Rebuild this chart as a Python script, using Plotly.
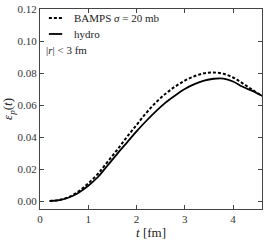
import plotly.graph_objects as go

t = [0.2, 0.4, 0.6, 0.8, 1.0, 1.2, 1.4, 1.6, 1.8, 2.0, 2.2, 2.4, 2.6, 2.8, 3.0, 3.2, 3.4, 3.6, 3.8, 4.0, 4.2, 4.4, 4.6]
hydro = [0.0, 0.0005, 0.0022, 0.0052, 0.0095, 0.0150, 0.0222, 0.0295, 0.0365, 0.0435, 0.0500, 0.0560, 0.0615, 0.0660,
         0.0700, 0.0730, 0.0752, 0.0764, 0.0765, 0.0747, 0.0714, 0.0688, 0.0658]
bamps = [0.0, 0.0006, 0.0025, 0.0060, 0.0110, 0.0170, 0.0245, 0.0320, 0.0400, 0.0475, 0.0550, 0.0615, 0.0670, 0.0715,
         0.0752, 0.0780, 0.0798, 0.0803, 0.0795, 0.0772, 0.0735, 0.0695, 0.0655]
x_ticks = [0, 1, 2, 3, 4]
y_ticks = [0.00, 0.02, 0.04, 0.06, 0.08, 0.10, 0.12]

FONT = "Liberation Serif, DejaVu Serif, serif"

fig = go.Figure()
fig.add_trace(go.Scatter(x=t, y=bamps, mode="lines", line=dict(color="black", width=2, dash="3px,2px"),
                         line_shape="spline", showlegend=False, hoverinfo="skip"))
fig.add_trace(go.Scatter(x=t, y=hydro, mode="lines", line=dict(color="black", width=1.8),
                         line_shape="spline", showlegend=False, hoverinfo="skip"))

axis_common = dict(showline=True, linecolor="#444", linewidth=1, mirror="ticks", ticks="inside",
                   ticklen=4, tickcolor="#444", showgrid=False, zeroline=False,
                   tickfont=dict(family=FONT, size=11, color="#333"))
fig.update_xaxes(range=[0, 4.6], tickvals=x_ticks, title=dict(text="<i>t</i> [fm]", standoff=3,
                 font=dict(family=FONT, size=13, color="#222")), **axis_common)
fig.update_yaxes(range=[-0.005, 0.12], tickvals=y_ticks, tickformat=".2f",
                 title=dict(text="<i>ε<sub>p</sub></i>(<i>t</i>)", standoff=3,
                            font=dict(family=FONT, size=13, color="#222")), **axis_common)

# legend drawn in paper coordinates
fig.add_shape(type="line", xref="paper", yref="paper", x0=0.04, x1=0.10, y0=0.955, y1=0.955,
              line=dict(color="black", width=2, dash="3px,2px"))
fig.add_shape(type="line", xref="paper", yref="paper", x0=0.04, x1=0.10, y0=0.875, y1=0.875,
              line=dict(color="black", width=1.8))
fig.add_annotation(xref="paper", yref="paper", x=0.145, y=0.955, xanchor="left", yanchor="middle",
                   text="BAMPS <i>σ</i> = 20 mb", showarrow=False, font=dict(family=FONT, size=11, color="#222"))
fig.add_annotation(xref="paper", yref="paper", x=0.145, y=0.875, xanchor="left", yanchor="middle",
                   text="hydro", showarrow=False, font=dict(family=FONT, size=11, color="#222"))
fig.add_annotation(xref="paper", yref="paper", x=0.02, y=0.795, xanchor="left", yanchor="middle",
                   text="|<i>r</i>| < 3 fm", showarrow=False, font=dict(family=FONT, size=11, color="#222"))

fig.update_layout(width=266, height=241, margin=dict(l=40, r=4, t=9, b=32),
                  paper_bgcolor="white", plot_bgcolor="white", showlegend=False)
fig.write_html("out.html", config={"displayModeBar": False, "staticPlot": True})

# remove the default page margin so the figure sits at the window's top-left corner
with open("out.html", encoding="utf-8") as f:
    html = f.read()
html = html.replace("<head>", "<head><style>html,body{margin:0;padding:0;overflow:hidden;}</style>", 1)
with open("out.html", "w", encoding="utf-8") as f:
    f.write(html)
